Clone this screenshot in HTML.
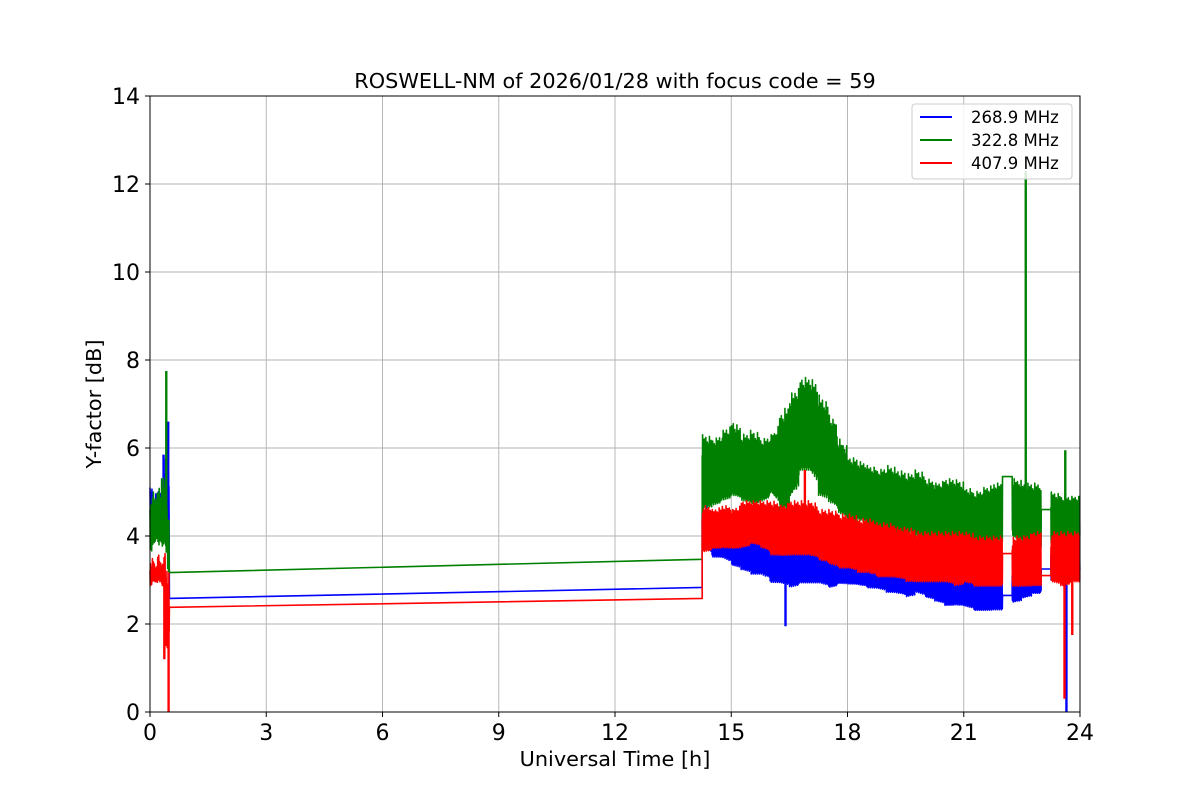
<!DOCTYPE html>
<html><head><meta charset="utf-8"><style>
body{margin:0;background:#fff;}
svg text{font-family:"DejaVu Sans","Liberation Sans",sans-serif;}
</style></head><body>
<svg id="chart" width="1200" height="800" xmlns="http://www.w3.org/2000/svg">
<rect x="0" y="0" width="1200" height="800" fill="#fff"/>
<g id="grid"></g>
<g id="series"></g>
<g id="axes"></g>
<text x="615" y="88" font-size="20.8" text-anchor="middle">ROSWELL-NM of 2026/01/28 with focus code = 59</text>
<text x="615" y="766" font-size="20.8" text-anchor="middle">Universal Time [h]</text>
<text transform="translate(101,404) rotate(-90)" font-size="20.8" text-anchor="middle">Y-factor [dB]</text>
<g>
<rect x="912" y="104" width="160" height="75" rx="3" fill="#fff" fill-opacity="0.85" stroke="#ccc"/>
<line x1="920" y1="117" x2="952" y2="117" stroke="blue" stroke-width="2"/>
<text x="971" y="123" font-size="16.5">268.9 MHz</text>
<line x1="920" y1="140" x2="952" y2="140" stroke="green" stroke-width="2"/>
<text x="971" y="146" font-size="16.5">322.8 MHz</text>
<line x1="920" y1="163" x2="952" y2="163" stroke="red" stroke-width="2"/>
<text x="971" y="169" font-size="16.5">407.9 MHz</text>
</g>
</svg>
<script>
const xTicks=[0,3,6,9,12,15,18,21,24];
const yTicks=[0,2,4,6,8,10,12,14];
const leftBins=[0,0.05,0.1,0.15,0.2,0.25,0.3,0.35,0.4,0.45];
const mainBins=[14.25,14.5,14.75,15,15.25,15.5,15.75,16,16.25,16.5,16.75,17,17.25,17.5,17.75,18,18.25,18.5,18.75,19,19.25,19.5,19.75,20,20.25,20.5,20.75,21,21.25,21.5,21.75,22,22.25,22.5,22.75,23,23.25,23.5,23.75];
const greenLeftHi=[4.8,5.0,4.9,5.0,5.2,5.0,5.3,5.4,5.3,4.5];
const greenLeftLo=[3.5,3.6,3.7,3.8,3.6,3.7,3.5,3.6,3.4,3.0];
const blueLeftHi=[5.1,5.1,4.8,5.0,5.0,5.0,5.0,5.5,5.9,5.5];
const blueLeftLo=[4.3,4.4,4.3,4.4,4.5,4.3,4.5,4.2,4.3,4.0];
const redLeftHi=[3.4,3.5,3.4,3.3,3.6,3.4,3.4,3.6,3.3,3.2];
const redLeftLo=[2.8,2.9,2.9,2.9,2.9,2.9,2.8,2.7,1.2,1.5];
const greenBridge=[3.17,3.47], blueBridge=[2.58,2.83], redBridge=[2.38,2.58];
const greenHi=[6.3,6.2,6.4,6.6,6.3,6.4,6.2,6.3,6.8,7.2,7.6,7.6,7.2,6.8,6.2,5.8,5.7,5.6,5.5,5.6,5.5,5.4,5.5,5.3,5.2,5.3,5.3,5.1,5.0,5.1,5.2,null,5.3,5.2,5.2,null,5.0,4.9,4.9];
const greenLo=[4.4,4.5,4.6,4.7,4.6,4.5,4.6,4.8,4.2,4.6,5.2,5.2,4.6,4.5,4.3,4.1,4.2,4.0,4.0,3.9,3.8,3.9,3.8,3.7,3.7,3.6,3.6,3.6,3.5,3.6,3.7,null,3.8,3.6,3.5,null,3.6,3.6,3.8];
const blueHi=[4.7,4.4,4.3,4.3,4.2,4.1,4.1,4.0,3.9,3.9,3.9,3.9,3.9,3.8,3.8,3.7,3.6,3.7,3.6,3.6,3.5,3.5,3.6,3.4,3.4,3.3,3.4,3.2,3.1,3.1,3.2,null,3.2,3.3,3.4,null,3.7,3.8,4.0];
const blueLo=[3.6,3.4,3.4,3.2,3.1,3.0,3.0,2.8,2.8,2.7,2.8,2.8,2.8,2.7,2.8,2.8,2.8,2.7,2.7,2.6,2.6,2.5,2.6,2.5,2.4,2.3,2.3,2.3,2.2,2.2,2.2,null,2.4,2.5,2.6,null,2.9,2.8,3.0];
const redHi=[4.7,4.6,4.7,4.6,4.8,4.8,4.8,4.8,4.7,4.8,4.8,4.8,4.6,4.6,4.5,4.5,4.4,4.4,4.3,4.3,4.2,4.2,4.1,4.1,4.1,4.1,4.1,4.1,4.0,4.0,4.0,null,4.0,4.0,4.1,null,4.1,4.1,4.1];
const redLo=[3.5,3.6,3.6,3.6,3.6,3.7,3.6,3.4,3.4,3.4,3.4,3.4,3.3,3.2,3.1,3.1,3.0,3.0,2.9,2.9,2.9,2.8,2.8,2.8,2.8,2.8,2.7,2.8,2.7,2.7,2.7,null,2.7,2.7,2.7,null,2.8,2.7,2.8];
const greenGap=[5.35,4.6], blueGap=[2.65,3.25], redGap=[3.6,3.1];
const greenSpikeT=[0.42,22.6,23.62], greenSpikeV=[7.75,12.3,5.95];
const blueSpikeT=[0.35,0.47,16.4,23.65], blueSpikeV=[5.85,6.6,1.95,0];
const redSpikeT=[0.37,0.48,16.9,23.6,23.8], redSpikeV=[1.2,0,5.5,0.3,1.75];

// texture pattern for the zigzag (style, not data)
const peakPat=[1,0.55,0.75,0.4,0.9,0.5,0.65,0.35,0.95,0.45,0.7,0.3,0.85,0.6,0.2,0.8,0.5];
const troughPat=[0.6,0.9,0.45,0.75,0.35,1,0.55,0.8,0.4,0.7,0.95,0.5,0.65,0.85,0.3];

const X0=150,X1=1080,Y0=712,Y1=96;
const xs=t=>X0+(t/24)*(X1-X0);
const ys=v=>Y0-(v/14)*(Y0-Y1);
const NS='http://www.w3.org/2000/svg';
function mk(tag,parent){const e=document.createElementNS(NS,tag);parent.appendChild(e);return e;}

const grid=document.getElementById('grid'), axes=document.getElementById('axes');
xTicks.forEach(t=>{
  const l=mk('line',grid);
  
  
  l.setAttribute('x1',xs(t));l.setAttribute('x2',xs(t));l.setAttribute('y1',Y1);l.setAttribute('y2',Y0);
  l.setAttribute('stroke','#b0b0b0');l.setAttribute('stroke-width','0.9');
  const k=mk('line',axes);
  
  
  k.setAttribute('x1',xs(t));k.setAttribute('x2',xs(t));k.setAttribute('y1',Y0);k.setAttribute('y2',Y0+5);k.setAttribute('stroke','#000');
  const tx=mk('text',axes);
  
  
  tx.setAttribute('x',xs(t));tx.setAttribute('y',Y0+28);tx.setAttribute('font-size','22');tx.setAttribute('text-anchor','middle');
  tx.textContent=t;
});
yTicks.forEach(v=>{
  const l=mk('line',grid);
  
  
  l.setAttribute('x1',X0);l.setAttribute('x2',X1);l.setAttribute('y1',ys(v));l.setAttribute('y2',ys(v));
  l.setAttribute('stroke','#b0b0b0');l.setAttribute('stroke-width','0.9');
  const k=mk('line',axes);
  
  
  k.setAttribute('x1',X0-5);k.setAttribute('x2',X0);k.setAttribute('y1',ys(v));k.setAttribute('y2',ys(v));k.setAttribute('stroke','#000');
  const tx=mk('text',axes);
  
  
  tx.setAttribute('x',X0-10);tx.setAttribute('y',ys(v)+8);tx.setAttribute('font-size','22');tx.setAttribute('text-anchor','end');
  tx.textContent=v;
});
const frame=mk('rect',axes);


frame.setAttribute('x',X0);frame.setAttribute('y',Y1);frame.setAttribute('width',X1-X0);frame.setAttribute('height',Y0-Y1);
frame.setAttribute('fill','none');frame.setAttribute('stroke','#000');

let patIdx=0;
function zig(pts,t0,t1,lo,hi,n){
  const mid=(lo+hi)/2;
  for(let i=0;i<n;i++){
    const a=t0+(t1-t0)*i/n, b=t0+(t1-t0)*(i+0.5)/n;
    const p=peakPat[patIdx%peakPat.length], q=troughPat[(patIdx*3)%troughPat.length];
    patIdx++;
    pts.push([a,mid+p*(hi-mid)]);pts.push([b,mid-q*(mid-lo)]);
  }
}
function interpBase(bins,lo,hi,t,end){
  for(let i=0;i<bins.length;i++){const e=i<bins.length-1?bins[i+1]:end;if(t>=bins[i]&&t<e&&lo[i]!=null)return (lo[i]+hi[i])/2;}
  return null;
}
const seriesG=document.getElementById('series');
function drawSeries(name,color,lHi,lLo,bridge,hi,lo,gap,spT,spV){
  const pts=[];
  leftBins.forEach((t,i)=>zig(pts,t,i<leftBins.length-1?leftBins[i+1]:0.5,lLo[i],lHi[i],4));
  pts.push([0.5,bridge[0]]);pts.push([14.25,bridge[1]]);
  let g=0;
  mainBins.forEach((t,i)=>{
    const e=i<mainBins.length-1?mainBins[i+1]:24;
    if(hi[i]==null){pts.push([t,gap[g]]);pts.push([e,gap[g]]);g++;return;}
    const nHi=(i+1<hi.length&&hi[i+1]!=null)?hi[i+1]:hi[i];
    const nLo=(i+1<lo.length&&lo[i+1]!=null)?lo[i+1]:lo[i];
    const sub=4;
    for(let s=0;s<sub;s++){
      const f=s/sub*0.5;
      zig(pts,t+(e-t)*s/sub,t+(e-t)*(s+1)/sub,lo[i]+(nLo-lo[i])*f,hi[i]+(nHi-hi[i])*f,6);
    }
  });
  const p=mk('polyline',seriesG);
  
  
  p.setAttribute('points',pts.map(q=>xs(q[0]).toFixed(2)+','+ys(q[1]).toFixed(2)).join(' '));
  p.setAttribute('fill','none');p.setAttribute('stroke',color);p.setAttribute('stroke-width','1.6');p.setAttribute('stroke-linejoin','round');
  spT.forEach((t,i)=>{
    let base=t<1?interpBase(leftBins,lLo,lHi,t,0.5):interpBase(mainBins,lo,hi,t,24);
    if(base==null)base=gap[gap.length-1];
    const s=mk('line',seriesG);
    
    
    s.setAttribute('x1',xs(t));s.setAttribute('x2',xs(t));s.setAttribute('y1',ys(base));s.setAttribute('y2',ys(spV[i]));
    s.setAttribute('stroke',color);s.setAttribute('stroke-width','2.4');
  });
}
drawSeries('series-268-9','blue',blueLeftHi,blueLeftLo,blueBridge,blueHi,blueLo,blueGap,blueSpikeT,blueSpikeV);
drawSeries('series-322-8','green',greenLeftHi,greenLeftLo,greenBridge,greenHi,greenLo,greenGap,greenSpikeT,greenSpikeV);
drawSeries('series-407-9','red',redLeftHi,redLeftLo,redBridge,redHi,redLo,redGap,redSpikeT,redSpikeV);
</script>
</body></html>
